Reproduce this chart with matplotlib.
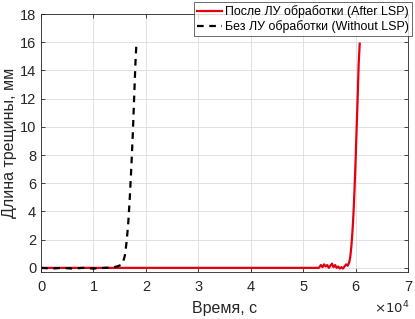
import numpy as np
import matplotlib.pyplot as plt

plt.rcParams['font.family'] = ['Liberation Sans', 'DejaVu Sans']

# без ЛУ обработки
t_base = [0, 2000, 4000, 6000, 8000, 10000, 12000, 13500, 14500, 15200, 15600,
          16000, 16300, 16600, 16900, 17200, 17500, 17800, 18000, 18200]
a_base = [0.0, -0.05, 0.0, -0.05, 0.0, -0.05, 0.0, 0.02, 0.1, 0.2, 0.35,
          0.9, 1.8, 3.0, 4.8, 7.0, 9.5, 12.5, 14.5, 16.0]

# после ЛУ обработки
t_lsp = [0, 10000, 20000, 30000, 40000, 50000, 53000, 53400, 53700, 54000,
         54300, 54600, 54900, 55200, 55500, 55800, 56100, 56400, 56700, 57000,
         57300, 57600, 57900, 58200, 58500, 58800, 59000, 59200, 59400, 59600,
         59800, 60000, 60200, 60400, 60600, 60800]
a_lsp = [0.0, 0.0, 0.0, 0.0, 0.0, 0.0, 0.0, 0.2, 0.05, 0.25, 0.1, 0.2, 0.0,
         0.15, 0.3, 0.05, 0.2, 0.0, 0.1, -0.05, 0.05, -0.05, 0.1, 0.25, 0.15,
         0.4, 0.8, 1.5, 2.5, 3.8, 5.5, 7.5, 9.8, 12.0, 14.5, 15.9]

fig = plt.figure(figsize=(4.15, 3.19), dpi=100)
ax = fig.add_axes([0.099, 0.147, 0.884, 0.809])

ax.plot(t_lsp, a_lsp, color='#e3000f', lw=1.6, label='После ЛУ обработки (After LSP)')
ax.plot(t_base, a_base, color='black', lw=1.6, ls=(0, (3, 2.5)),
        label='Без ЛУ обработки (Without LSP)')

ax.set_xlim(0, 70000)
ax.set_ylim(-0.3, 18)
ax.set_xticks(np.arange(0, 70001, 10000))
ax.set_xticklabels([str(i) for i in range(8)])
ax.set_yticks(np.arange(0, 19, 2))
ax.tick_params(direction='in', length=3, labelsize=10.5, colors='#262626',
               top=True, right=True, width=0.6)
ax.tick_params(axis='x', pad=6)
ax.grid(True, color='#dcdcdc', lw=0.6)
for s in ax.spines.values():
    s.set_color('#262626')
    s.set_linewidth(0.6)

ax.set_xlabel('Время, с', fontsize=11.5, color='#262626', labelpad=5)
ax.set_ylabel('Длина трещины, мм', fontsize=11.5, color='#262626', labelpad=2)
ax.text(1.005, -0.105, r'$\times10^4$', transform=ax.transAxes, ha='right',
        va='top', fontsize=9.5, color='#262626')

leg = ax.legend(loc='upper right', bbox_to_anchor=(1.01, 1.045), fontsize=8.9,
                frameon=True, fancybox=False, edgecolor='#262626',
                borderpad=0.2, handlelength=2.0, handletextpad=0.3,
                labelspacing=0.2, borderaxespad=0)
leg.get_frame().set_linewidth(0.6)

fig.savefig('out.png', dpi=100)
